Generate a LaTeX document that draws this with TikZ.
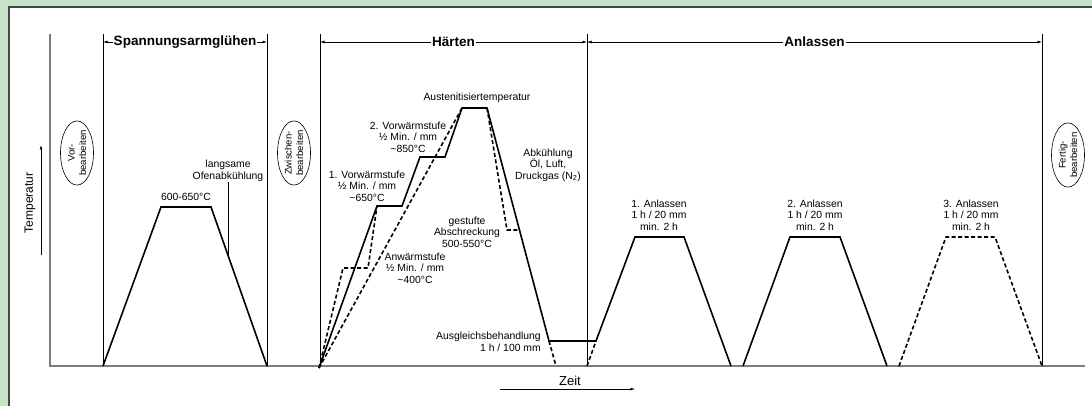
\documentclass[tikz,border=0pt]{standalone}
\usepackage{fontspec}
\setmainfont{Liberation Sans}
\usepackage{xcolor}
\usetikzlibrary{calc}
\usetikzlibrary{arrows.meta}
\usetikzlibrary{shapes.geometric}
\definecolor{framegreen}{RGB}{200,226,200}
\definecolor{framegray}{RGB}{70,70,70}
\definecolor{axisgray}{RGB}{125,125,125}
\tikzset{
	curve/.style={line width=1.6pt, line join=miter},
	altcurve/.style={curve, dash pattern=on 4pt off 2.5pt},
	phase/.style={line width=0.8pt},
	axis/.style={axisgray, line width=1.3pt},
	span/.style={-{Latex[length=4.5pt,width=3pt]}, line width=0.7pt},
	heading/.style={font=\fontsize{13.5}{15}\bfseries\selectfont, fill=white, inner sep=1pt},
	note/.style={font=\fontsize{10.4}{11.6}\selectfont, align=center, inner sep=0pt},
	workstep/.style={ellipse, draw, line width=0.6pt, rotate=90, inner sep=0pt, align=center,
			font=\fontsize{9.6}{11.5}\selectfont, minimum height=33pt}
}

\begin{document}
\begin{tikzpicture}[x=1pt, y=-1pt]
	\useasboundingbox (0,0) rectangle (1092,406);
	\fill[framegreen] (0,0) rectangle (1092,406);
	\fill[white] (9,7) rectangle (1092,406);
	\draw[framegray, line width=1.5pt] (9,406) -- (9,7) -- (1092,7);

	\draw[axis] (50,34) -- (50,366) -- (1085,366);
	\foreach \x/\n in {103/b1, 267/b2, 320/b3, 587/b4, 1042/b5} {
			\coordinate (\n top) at (\x,34);
			\coordinate (\n bot) at (\x,366);
			\coordinate (\n dim) at (\x,42);
			\draw[phase] (\n top) -- (\n bot);
		}

	\node[heading] (spa) at ($(b1dim)!0.5!(b2dim)$) {Spannungsarmglühen};
	\node[heading] (haert) at ($(b3dim)!0.5!(b4dim)$) {Härten};
	\node[heading] (anl) at ($(b4dim)!0.5!(b5dim)$) {Anlassen};
	\draw[span] (spa.west) -- (b1dim);
	\draw[span] (spa.east) -- (b2dim);
	\draw[span] (haert.west) -- (b3dim);
	\draw[span] (haert.east) -- (b4dim);
	\draw[span] (anl.west) -- (b4dim);
	\draw[span] (anl.east) -- (b5dim);

	\node[font=\fontsize{12}{14}\selectfont, rotate=90] (temp) at (30,203) {Temperatur};
	\coordinate (t0) at (41,255);
	\coordinate (t1) at (41,145);
	\draw[span] (t0) -- (t1);
	\node[font=\fontsize{13}{15}\selectfont] (zeit) at (570,381) {Zeit};
	\coordinate (z0) at (500,389);
	\coordinate (z1) at (635,389);
	\draw[span] (z0) -- (z1);

	\node[workstep, minimum width=59pt] (vor) at (77,153) {Vor-\\bearbeiten};
	\node[workstep, minimum width=58pt] (zwi) at (294,153) {Zwischen-\\bearbeiten};
	\node[workstep, minimum width=64pt] (fer) at (1068,155) {Fertig-\\bearbeiten};

	% Spannungsarmgluehen
	\coordinate (sa1) at (103,366);
	\coordinate (sa2) at (161,207);
	\coordinate (sa3) at (211,207);
	\coordinate (sa4) at (267,366);
	\draw[curve] (sa1) -- (sa2) -- (sa3) -- (sa4);
	\node[note] (sat) at (186,197) {600-650°C};
	\node[note] (ofen) at (228,171) {langsame\\Ofenabkühlung};
	\coordinate (ofenpt) at ($(sa3)!0.315!(sa4)$);
	\draw[phase] (ofen.south -| ofenpt) -- (ofenpt);

	% Haerten
	\coordinate (h0) at (319,368);
	\coordinate (h1) at (377,206);
	\coordinate (h2) at (402,206);
	\coordinate (h3) at (420,157);
	\coordinate (h4) at (445,157);
	\coordinate (h5) at (462,108);
	\coordinate (h6) at (487,108);
	\coordinate (h7) at (549,341);
	\coordinate (h8) at (596,341);
	\coordinate (w1) at (343,268);
	\coordinate (w2) at (368,268);
	\coordinate (q1) at (507,230);
	\coordinate (q2) at (520,230);
	\coordinate (h9) at (556,366);
	\coordinate (a0) at (587,366);

	% Anlassen
	\coordinate (a1) at (635,237);
	\coordinate (a2) at (684,237);
	\coordinate (a3) at (731,366);
	\coordinate (a4) at (743,366);
	\coordinate (a5) at (790,237);
	\coordinate (a6) at (840,237);
	\coordinate (a7) at (887,366);
	\coordinate (a8) at (899,366);
	\coordinate (a9) at (946,237);
	\coordinate (a10) at (995,237);
	\coordinate (a11) at (1042,366);

	\draw[curve] (h0) -- (h1) -- (h2) -- (h3) -- (h4) -- (h5) -- (h6) -- (h7) -- (h8) -- (a1) -- (a2) -- (a3);
	\draw[curve] (a4) -- (a5) -- (a6) -- (a7);
	\draw[altcurve] (h0) -- (w1) -- (w2) -- (h1);
	\draw[altcurve] (h0) -- (h5);
	\draw[altcurve] (h6) -- (q1) -- (q2);
	\draw[altcurve] (h7) -- (h9);
	\draw[altcurve] (a0) -- (h8);
	\draw[altcurve] (a8) -- (a9) -- (a10) -- (a11);

	\node[note] (aust) at (477,98) {Austenitisiertemperatur};
	\node[note] (vs2) at (408,137) {2. Vorwärmstufe\\½ Min. / mm\\\textasciitilde850°C};
	\node[note] (vs1) at (367,186) {1. Vorwärmstufe\\½ Min. / mm\\\textasciitilde650°C};
	\node[note] (anw) at (415,268) {Anwärmstufe\\½ Min. / mm\\\textasciitilde400°C};
	\node[note] (gest) at (467,232) {gestufte\\Abschreckung\\500-550°C};
	\node[note] (abk) at (548,165) {Abkühlung\\Öl, Luft,\\Druckgas (N\textsubscript{2})};
	\node[note, align=right, anchor=east] (ausg) at (541,342) {Ausgleichsbehandlung\\1 h / 100 mm};

	\node[note] (anl1) at (659,215) {1. Anlassen\\1 h / 20 mm\\min. 2 h};
	\node[note] (anl2) at (815,215) {2. Anlassen\\1 h / 20 mm\\min. 2 h};
	\node[note] (anl3) at (971,215) {3. Anlassen\\1 h / 20 mm\\min. 2 h};
\end{tikzpicture}
\end{document}
